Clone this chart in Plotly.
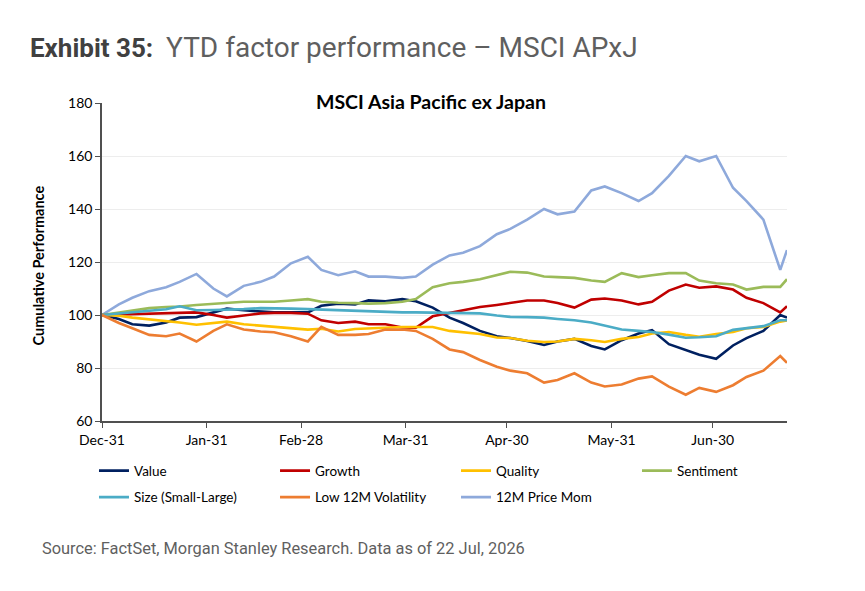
import plotly.graph_objects as go

# fechas (aprox. cada 4-5 dias)
dates = ['2025-12-31', '2026-01-05', '2026-01-09', '2026-01-14', '2026-01-19', '2026-01-23',
         '2026-01-28', '2026-02-02', '2026-02-06', '2026-02-11', '2026-02-16', '2026-02-20',
         '2026-02-25', '2026-03-02', '2026-03-06', '2026-03-11', '2026-03-16', '2026-03-20',
         '2026-03-25', '2026-03-30', '2026-04-03', '2026-04-08', '2026-04-13', '2026-04-17',
         '2026-04-22', '2026-04-27', '2026-05-01', '2026-05-06', '2026-05-11', '2026-05-15',
         '2026-05-20', '2026-05-25', '2026-05-29', '2026-06-03', '2026-06-08', '2026-06-12',
         '2026-06-17', '2026-06-22', '2026-06-26', '2026-07-01', '2026-07-06', '2026-07-10',
         '2026-07-15', '2026-07-20', '2026-07-22']

value = [100, 98.5, 96.5, 96, 97.2, 99, 99.2, 101, 102.4, 101.8, 101.2, 101,
         101, 101, 103.5, 104.3, 104, 105.5, 105.2, 106, 105.2, 102.8, 99, 97,
         94, 92, 91.3, 90.2, 88.7, 90, 91, 88.3, 87, 90.5, 93, 94.3,
         89, 86.8, 85, 83.5, 88.5, 91.3, 94, 100, 99]

growth = [100, 100.2, 100.4, 100.7, 100.9, 101, 101, 100, 99, 99.8, 100.6, 100.8,
          100.8, 100.5, 98, 97, 97.5, 96.5, 96.5, 95.3, 95.2, 99.5, 100.8, 101.8,
          103, 103.8, 104.5, 105.5, 105.5, 104.5, 102.8, 105.8, 106.2, 105.5, 104, 105,
          109.2, 111.5, 110.3, 110.8, 109.6, 106.5, 104.5, 101, 103.3]

quality = [100, 99.7, 99, 98.4, 97.8, 97.2, 96.3, 97, 97.5, 96.5, 96, 95.6,
           95, 94.5, 94.8, 93.8, 94.7, 95, 95.3, 95.5, 95.5, 95.5, 94, 93.4,
           92.8, 91.5, 91.3, 90.3, 89.8, 90, 91, 90.5, 89.8, 91, 91.7, 93,
           93.6, 92.5, 91.8, 92.8, 93.6, 95, 95.5, 97.5, 98]

sentiment = [100, 101, 101.8, 102.6, 103, 103.2, 103.8, 104.2, 104.5, 105, 105, 105,
             105.5, 106, 105, 104.6, 104.5, 104.3, 104.5, 105, 106, 110.5, 112, 112.5,
             113.5, 115, 116.3, 116, 114.5, 114.3, 114, 113, 112.5, 115.8, 114.3, 115,
             115.8, 115.8, 113, 112, 111.5, 109.6, 110.6, 110.6, 113.5]

size = [100, 100.6, 101, 101.6, 102.2, 103.3, 101.8, 101.9, 102, 102.2, 102.6, 102.6,
        102.4, 102.2, 102, 101.8, 101.6, 101.4, 101.2, 101, 101, 100.9, 100.8, 100.7,
        100.6, 99.8, 99.3, 99.2, 99, 98.5, 98, 97.2, 96, 94.5, 94, 93.6,
        92.6, 91.4, 91.6, 92, 94.4, 95.1, 95.8, 98, 98]

low_vol = [100, 97, 95, 92.5, 92, 93, 90, 94, 96.5, 94.5, 93.8, 93.5,
           92, 90, 95.5, 92.5, 92.5, 92.8, 94.5, 94.5, 94, 91, 87, 86,
           83, 80.5, 79, 78, 74.5, 75.5, 78, 74.5, 73, 73.8, 76, 76.8,
           73, 69.9, 72.5, 71, 73.5, 76.6, 79, 84.5, 82]

price_mom = [100, 104, 106.5, 109, 110.5, 112.5, 115.5, 110, 107, 111, 112.5, 114.5,
             119.5, 122, 117, 115, 116.5, 114.5, 114.5, 114, 114.5, 119, 122.5, 123.5,
             126, 130.5, 132.5, 136, 140, 138, 139, 147, 148.5, 146, 143, 146,
             152.5, 160, 158, 160, 148, 143, 136, 117, 124.5]

# nombre, datos, color, leyenda (una por columna), orden dentro de la columna
series = [('12M Price Mom', price_mom, '#8EA9DB', 'legend3', 2),
          ('Value', value, '#002060', 'legend', 1),
          ('Growth', growth, '#C00000', 'legend2', 1),
          ('Quality', quality, '#FFC000', 'legend3', 1),
          ('Sentiment', sentiment, '#9BBB59', 'legend4', 1),
          ('Size (Small-Large)', size, '#4BACC6', 'legend', 2),
          ('Low 12M Volatility', low_vol, '#ED7D31', 'legend2', 2)]

fig = go.Figure()
for nombre, y, color, leg, rank in series:
    fig.add_trace(go.Scatter(x=dates, y=y, name=nombre, mode='lines',
                             line=dict(color=color, width=2.6),
                             legend=leg, legendgroup=nombre, legendrank=rank))

fuente = 'Lato'
leg_base = dict(orientation='v', yanchor='top', y=-0.108, xanchor='left',
                font=dict(family=fuente, size=13.5, color='#000000'),
                tracegroupgap=6, itemwidth=30, bgcolor='rgba(0,0,0,0)')

fig.update_layout(
    width=865, height=591,
    margin=dict(l=94, r=86, t=95, b=178),
    plot_bgcolor='white', paper_bgcolor='white',
    showlegend=True,
    legend=dict(leg_base, x=-0.0117),
    legend2=dict(leg_base, x=0.2526),
    legend3=dict(leg_base, x=0.5168),
    legend4=dict(leg_base, x=0.7810),
    title=dict(text='<b>Exhibit 35:</b>  <span style="color:#5f5f5f;font-size:28px">YTD factor performance \u2013 MSCI APxJ</span>',
               x=0.0254, xanchor='left', y=0.932, yanchor='middle',
               font=dict(family='Roboto', size=26, color='#404040')),
)

fig.update_xaxes(type='date', range=['2025-12-31', '2026-07-22'],
                 tickvals=['2025-12-31', '2026-01-31', '2026-02-28', '2026-03-31',
                           '2026-04-30', '2026-05-31', '2026-06-30'],
                 tickformat='%b-%d', ticks='outside', ticklen=5, tickcolor='#505050',
                 showline=True, linecolor='#505050', linewidth=1.5, showgrid=False,
                 tickfont=dict(family=fuente, size=14, color='#000000'))
fig.update_yaxes(range=[60, 180], dtick=20, ticks='outside', ticklen=5, tickcolor='#505050',
                 showline=True, linecolor='#505050', linewidth=1.5,
                 showgrid=True, gridcolor='#EDEDED', gridwidth=1, zeroline=False,
                 tickfont=dict(family=fuente, size=14, color='#000000'))

fig.add_annotation(text='<b>MSCI Asia Pacific ex Japan</b>', xref='paper', yref='paper',
                   x=0.481, y=1.006, xanchor='center', yanchor='middle', showarrow=False,
                   font=dict(family=fuente, size=19.5, color='#000000'))
fig.add_annotation(text='<b>Cumulative Performance</b>', xref='paper', yref='paper',
                   x=-0.093, y=0.49, textangle=-90, xanchor='center', yanchor='middle',
                   showarrow=False, font=dict(family=fuente, size=14.5, color='#000000'))
fig.add_annotation(text='Source: FactSet, Morgan Stanley Research. Data as of 22 Jul, 2026',
                   xref='paper', yref='paper', x=-0.0905, y=-0.4025, xanchor='left',
                   yanchor='middle', showarrow=False,
                   font=dict(family='Roboto', size=16.4, color='#5f5f5f'))

fig.write_html("out.html")
